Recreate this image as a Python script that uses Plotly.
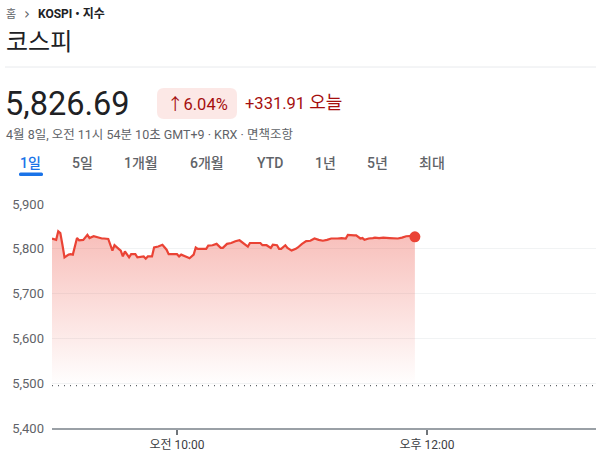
import pandas as pd
import plotly.graph_objects as go

# ---- data ----
minutes = [0, 2, 3, 4, 5, 6, 8, 9, 10, 12, 13, 15, 17, 18, 20, 22, 24, 25, 27, 29, 30, 32, 33, 34, 35,
           37, 38, 40, 41, 44, 45, 46, 48, 49, 51, 53, 55, 56, 58, 60, 61, 62, 65, 66, 68, 69, 70, 73,
           74, 75, 77, 79, 81, 82, 84, 86, 88, 90, 91, 93, 94, 95, 97, 100, 101, 103, 105, 106, 108,
           109, 110, 112, 113, 115, 117, 118, 120, 122, 124, 126, 128, 130, 132, 134, 137, 139, 141,
           142, 145, 146, 148, 149, 150, 152, 154, 155, 157, 159, 162, 164, 166, 168, 170, 173, 174.17]
values = [5823, 5820, 5839, 5835, 5809, 5781, 5787, 5788, 5787, 5824, 5819, 5820, 5831, 5824, 5828,
          5825, 5823, 5823, 5822, 5796, 5808, 5800, 5796, 5783, 5794, 5781, 5788, 5788, 5781, 5783,
          5778, 5783, 5783, 5803, 5805, 5809, 5798, 5788, 5788, 5788, 5783, 5787, 5781, 5779, 5787,
          5803, 5800, 5800, 5800, 5807, 5808, 5811, 5802, 5802, 5811, 5813, 5817, 5819, 5815, 5809,
          5805, 5813, 5813, 5813, 5808, 5808, 5802, 5809, 5808, 5800, 5800, 5808, 5802, 5796, 5800,
          5803, 5811, 5817, 5818, 5823, 5820, 5818, 5820, 5823, 5823, 5824, 5823, 5831, 5830, 5830,
          5823, 5824, 5820, 5823, 5824, 5825, 5824, 5825, 5824, 5824, 5823, 5825, 5828, 5829, 5826.69]
prev_close = 5494.78
y_ticks = [5400, 5500, 5600, 5700, 5800, 5900]
x_tick_minutes = [60, 180]
x_tick_labels = ["오전 10:00", "오후 12:00"]
tabs = ["1일", "5일", "1개월", "6개월", "YTD", "1년", "5년", "최대"]
tab_x = [30, 82, 141, 207, 270, 325, 377, 432]

base = pd.Timestamp("2026-04-08 09:00")
times = base + pd.to_timedelta(minutes, unit="m")
tick_times = base + pd.to_timedelta(x_tick_minutes, unit="m")
x_end = base + pd.to_timedelta(261.1, unit="m")

W, H = 596, 463
L, R, T, B = 52, 0, 204, 35
PW, PH = W - L - R, H - T - B


def px(x):
    return (x - L) / PW


def py(y):
    return (H - B - y) / PH


RED = "#ea4335"
FONT = "Roboto, Noto Sans CJK KR, sans-serif"

fig = go.Figure()
fig.add_trace(go.Scatter(x=times, y=[prev_close] * len(times), mode="lines",
                         line=dict(width=0), hoverinfo="skip", showlegend=False))
fig.add_trace(go.Scatter(
    x=times, y=values, mode="lines", line=dict(color=RED, width=2.2),
    fill="tonexty",
    fillgradient=dict(type="vertical", start=prev_close, stop=5835,
                      colorscale=[[0, "rgba(234,67,53,0.0)"], [1, "rgba(234,67,53,0.34)"]]),
    showlegend=False))
fig.add_trace(go.Scatter(x=[times[-1]], y=[values[-1]], mode="markers",
                         marker=dict(color=RED, size=11), showlegend=False))

shapes = []
# previous close dotted line
shapes.append(dict(type="line", xref="paper", yref="y", x0=0, x1=1, y0=prev_close, y1=prev_close,
                   line=dict(color="#5f6368", width=1.3, dash="1px,5px")))
# header separator
shapes.append(dict(type="line", xref="paper", yref="paper", x0=px(5), x1=px(596), y0=py(67), y1=py(67),
                   line=dict(color="#e8eaed", width=1)))


# badge rounded rect
def rounded(x0, y0, x1, y1, r):
    X0, X1 = px(x0), px(x1)
    Y0, Y1 = py(y0), py(y1)  # y0 top
    rx, ry = r / PW, r / PH
    return (f"M {X0+rx},{Y0} L {X1-rx},{Y0} Q {X1},{Y0} {X1},{Y0-ry} "
            f"L {X1},{Y1+ry} Q {X1},{Y1} {X1-rx},{Y1} L {X0+rx},{Y1} "
            f"Q {X0},{Y1} {X0},{Y1+ry} L {X0},{Y0-ry} Q {X0},{Y0} {X0+rx},{Y0} Z")


shapes.append(dict(type="path", xref="paper", yref="paper", path=rounded(157, 88, 237, 119, 7),
                   fillcolor="#fce8e6", line=dict(width=0)))
shapes.append(dict(type="path", xref="paper", yref="paper", path=rounded(19, 172.5, 43, 176, 1.5),
                   fillcolor="#1a73e8", line=dict(width=0)))

ann = []


def text(x, y, s, size, color, anchor="left", weight=None):
    ann.append(dict(xref="paper", yref="paper", x=px(x), y=py(y), text=s, showarrow=False,
                    xanchor=anchor, yanchor="middle",
                    font=dict(size=size, color=color, family=FONT, weight=weight)))


text(4, 14, "홈", 11, "#5f6368")
text(22, 14, "<span style='font-family:DejaVu Sans'>›</span>", 15, "#5f6368")
text(36, 14, "KOSPI • 지수", 12, "#202124", weight="bold")
text(4, 42, "코스피", 24, "#202124")
text(3, 104, "5,826.69", 32.5, "#202124")
text(197, 104, "↑6.04%", 16.5, "#a50e0e", anchor="center")
text(243, 103, "+331.91 <span style='font-size:18px'>오늘</span>", 16.5, "#a50e0e")
text(4, 134, "4월 8일, 오전 11시 54분 10초 GMT+9 · KRX · 면책조항", 12.5, "#5f6368")
for t, xx in zip(tabs, tab_x):
    text(xx, 163, t, 14, "#1a73e8" if t == "1일" else "#5f6368", anchor="center",
         weight=500)

fig.update_layout(
    width=W, height=H, margin=dict(l=L, r=R, t=T, b=B),
    paper_bgcolor="white", plot_bgcolor="white",
    shapes=shapes, annotations=ann, showlegend=False,
    font=dict(family=FONT),
    xaxis=dict(range=[base, x_end], tickvals=tick_times, ticktext=x_tick_labels,
               showgrid=False, zeroline=False, showline=True, linecolor="#9aa0a6", linewidth=1.5,
               ticks="outside", ticklen=5, tickwidth=2, tickcolor="#70757a",
               tickfont=dict(size=12, color="#3c4043")),
    yaxis=dict(range=[5400, 5900], tickvals=y_ticks, tickformat=",", showgrid=True,
               gridcolor="#f1f3f4", gridwidth=1, zeroline=False, showline=False,
               tickfont=dict(size=13, color="#5f6368"), ticks="", ticklabelstandoff=7),
)

fig.write_html("out.html", config={"displayModeBar": False},
               post_script="document.body.style.margin='0';document.body.style.overflow='hidden';")
